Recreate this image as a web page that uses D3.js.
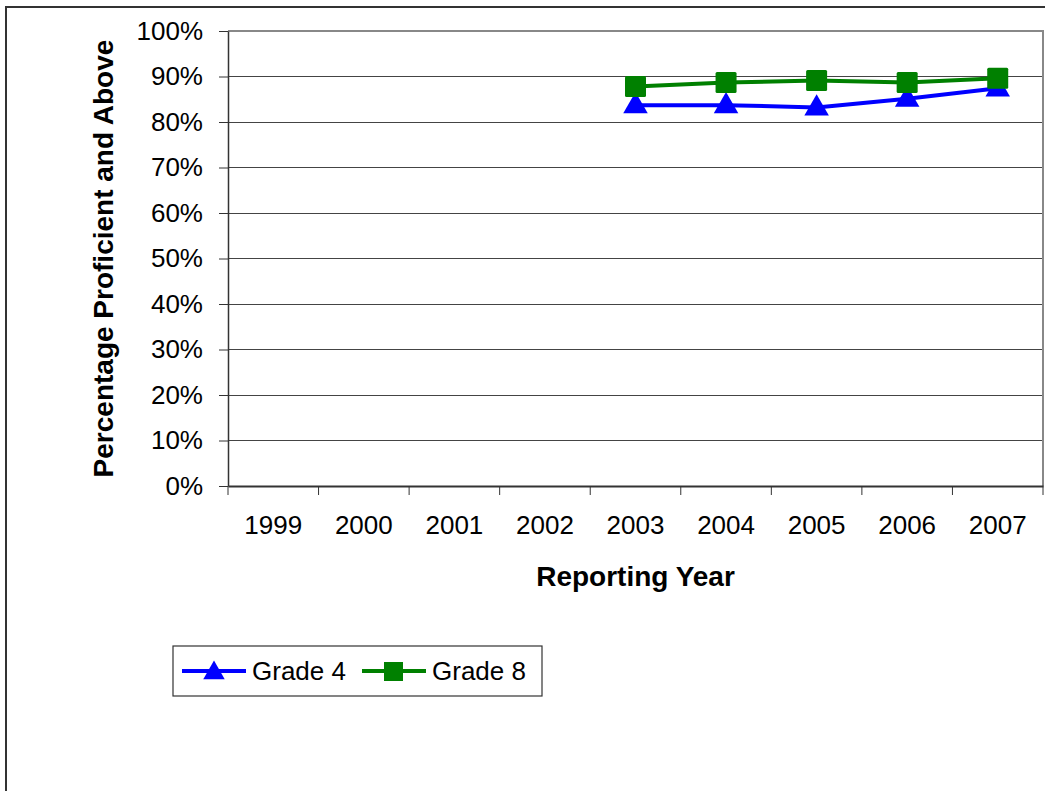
<!DOCTYPE html>
<html><head><meta charset="utf-8">
<script src="https://cdn.jsdelivr.net/npm/d3@7"></script>
<style>body{margin:0;background:#fff}svg{display:block;font-family:"Liberation Sans",Arial,sans-serif}</style>
</head><body>
<svg id="c" width="1045" height="791"></svg>
<script>
const years = ["1999","2000","2001","2002","2003","2004","2005","2006","2007"];
const grade4 = [null,null,null,null,83.7,83.7,83.2,85.1,87.4];
const grade8 = [null,null,null,null,87.8,88.7,89.1,88.7,89.6];
const yTicks = [0,10,20,30,40,50,60,70,80,90,100];
const seriesNames = ["Grade 4","Grade 8"];
const seriesColors = ["#0000ff","#008000"];

const svg = d3.select("#c");
const L=228, R=1043, T=31, B=486;
const x = d3.scaleBand().domain(years).range([L,R]);
const y = d3.scaleLinear().domain([0,100]).range([B,T]);
const FS = "26px";

// outer frame
svg.append("rect").attr("x",6).attr("y",7).attr("width",1100).attr("height",900)
  .attr("fill","none").attr("stroke","#333").attr("stroke-width",2);

// gridlines
svg.append("g").selectAll("line").data(yTicks.filter(d=>d>0&&d<100)).join("line")
  .attr("x1",L).attr("x2",R).attr("y1",d=>y(d)).attr("y2",d=>y(d))
  .attr("stroke","#444").attr("stroke-width",1).attr("shape-rendering","crispEdges");
// plot border top/right
svg.append("path").attr("d",`M${L},${T}H${R}V${B}`).attr("fill","none")
  .attr("stroke","#888").attr("stroke-width",2).attr("shape-rendering","crispEdges");

// y axis
const ya = svg.append("g").attr("transform",`translate(${L},0)`)
  .call(d3.axisLeft(y).tickValues(yTicks).tickFormat(d=>d+"%").tickSize(9).tickSizeOuter(0));
ya.select(".domain").attr("stroke","#333").attr("stroke-width",1.5);
ya.selectAll(".tick line").attr("stroke","#333");
ya.selectAll("text").attr("font-size",FS).attr("fill","#000").attr("x",-25).attr("font-family","Liberation Sans, Arial, sans-serif");

// x axis
const xa = svg.append("g").attr("transform",`translate(0,${B})`)
  .call(d3.axisBottom(x).tickSize(0).tickSizeOuter(0));
xa.select(".domain").attr("stroke","#333").attr("stroke-width",2);
xa.selectAll("text").attr("font-size",FS).attr("fill","#000").attr("dy","0").attr("y",48).attr("font-family","Liberation Sans, Arial, sans-serif");
// category separator ticks
svg.append("g").selectAll("line").data(years.concat(["_end"])).join("line")
  .attr("x1",(d,i)=>L+i*x.step()).attr("x2",(d,i)=>L+i*x.step())
  .attr("y1",B).attr("y2",B+9).attr("stroke","#333").attr("stroke-width",1);

// axis titles
svg.append("text").attr("x",(L+R)/2).attr("y",586).attr("text-anchor","middle")
  .attr("font-size","28px").attr("font-weight","bold").text("Reporting Year");
svg.append("text").attr("transform",`translate(113,${(T+B)/2}) rotate(-90)`).attr("text-anchor","middle")
  .attr("font-size","28px").attr("font-weight","bold").text("Percentage Proficient and Above");

// series
const data = [grade4, grade8];
const line = d3.line().defined(d=>d.v!=null).x(d=>x(d.k)+x.bandwidth()/2).y(d=>y(d.v));
data.forEach((arr,si)=>{
  const pts = years.map((k,i)=>({k,v:arr[i]}));
  svg.append("path").datum(pts).attr("d",line).attr("fill","none")
    .attr("stroke",seriesColors[si]).attr("stroke-width",4);
  const valid = pts.filter(d=>d.v!=null);
  if(si===0){
    svg.append("g").selectAll("path").data(valid).join("path")
      .attr("d",d3.symbol(d3.symbolTriangle,260)())
      .attr("transform",d=>`translate(${x(d.k)+x.bandwidth()/2},${y(d.v)+1})`)
      .attr("fill",seriesColors[si]);
  } else {
    svg.append("g").selectAll("rect").data(valid).join("rect")
      .attr("x",d=>x(d.k)+x.bandwidth()/2-10.5).attr("y",d=>y(d.v)-10.5)
      .attr("width",21).attr("height",21).attr("rx",1.5)
      .attr("fill",seriesColors[si]);
  }
});

// legend
const lg = svg.append("g");
lg.append("rect").attr("x",173).attr("y",646).attr("width",369).attr("height",50)
  .attr("fill","#fff").attr("stroke","#333").attr("stroke-width",1.2);
const lx = [182,362];
seriesNames.forEach((n,i)=>{
  const g = lg.append("g").attr("transform",`translate(${lx[i]},671)`);
  g.append("line").attr("x1",0).attr("x2",64).attr("stroke",seriesColors[i]).attr("stroke-width",4);
  if(i===0) g.append("path").attr("d",d3.symbol(d3.symbolTriangle,200)()).attr("transform","translate(32,2)").attr("fill",seriesColors[i]);
  else g.append("rect").attr("x",22).attr("y",-9).attr("width",19).attr("height",19).attr("fill",seriesColors[i]);
  g.append("text").attr("x",70).attr("y",9).attr("font-size",FS).text(n);
});
</script>
</body></html>
